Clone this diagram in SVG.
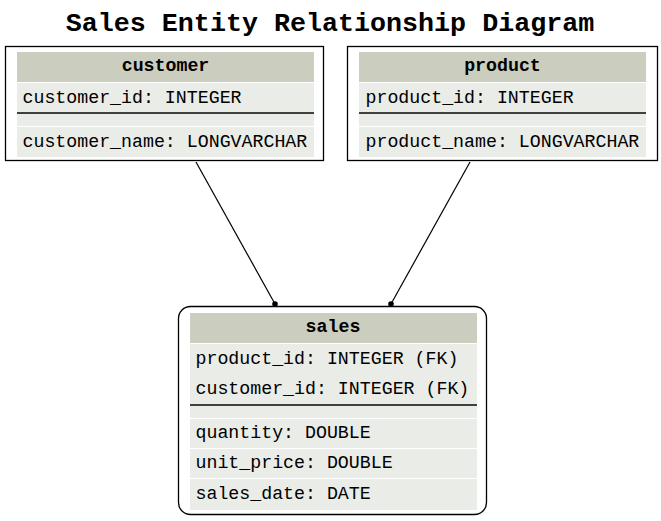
<svg xmlns="http://www.w3.org/2000/svg" width="661" height="521" viewBox="0 0 661 521">
<style>
.t{font-family:"Liberation Mono",monospace;font-size:18.25px;fill:#000}
.h{font-family:"Liberation Mono",monospace;font-size:18.25px;font-weight:bold;fill:#000;text-anchor:middle}
.title{font-family:"Liberation Mono",monospace;font-size:26.7px;font-weight:bold;fill:#000;text-anchor:middle}
.hd{fill:#cbcdbf}
.rw{fill:#eaece7}
.box{fill:#fff;stroke:#000;stroke-width:1.3}
.sep{stroke:#000;stroke-width:1.3}
.edge{stroke:#000;stroke-width:1.2;fill:none}
</style>
<rect width="661" height="521" fill="#fff"/>
<text class="title" x="330" y="31">Sales Entity Relationship Diagram</text>
<g id="customer">
<rect class="box" x="5.5" y="46.5" width="318" height="114"/>
<rect class="hd" x="17" y="52" width="297" height="30"/>
<rect class="rw" x="17" y="83" width="297" height="29"/>
<rect class="rw" x="17" y="114" width="297" height="12"/>
<rect class="rw" x="17" y="127" width="297" height="30"/>
<line class="sep" x1="17" y1="113" x2="314" y2="113"/>
<text class="h" x="165.5" y="71">customer</text>
<text class="t" x="22.5" y="103">customer_id: INTEGER</text>
<text class="t" x="22.5" y="147">customer_name: LONGVARCHAR</text>
</g>
<g id="product">
<rect class="box" x="347.5" y="46.5" width="310" height="114"/>
<rect class="hd" x="359" y="52" width="287" height="30"/>
<rect class="rw" x="359" y="83" width="287" height="29"/>
<rect class="rw" x="359" y="114" width="287" height="12"/>
<rect class="rw" x="359" y="127" width="287" height="30"/>
<line class="sep" x1="359" y1="113" x2="646" y2="113"/>
<text class="h" x="502.5" y="71">product</text>
<text class="t" x="365.5" y="103">product_id: INTEGER</text>
<text class="t" x="365.5" y="147">product_name: LONGVARCHAR</text>
</g>
<g id="sales">
<rect class="box" x="178.5" y="306.5" width="308" height="208" rx="12" ry="12"/>
<rect class="hd" x="190" y="313" width="287" height="30"/>
<rect class="rw" x="190" y="344" width="287" height="60"/>
<rect class="rw" x="190" y="406" width="287" height="12"/>
<rect class="rw" x="190" y="419" width="287" height="29"/>
<rect class="rw" x="190" y="449" width="287" height="29"/>
<rect class="rw" x="190" y="479" width="287" height="31"/>
<line class="sep" x1="190" y1="405" x2="477" y2="405"/>
<text class="h" x="333" y="332">sales</text>
<text class="t" x="195.5" y="364">product_id: INTEGER (FK)</text>
<text class="t" x="195.5" y="394">customer_id: INTEGER (FK)</text>
<text class="t" x="195.5" y="438">quantity: DOUBLE</text>
<text class="t" x="195.5" y="468">unit_price: DOUBLE</text>
<text class="t" x="195.5" y="499">sales_date: DATE</text>
</g>
<g id="connectors">
<line class="edge" x1="196" y1="162" x2="275" y2="304"/>
<circle cx="275" cy="304" r="2.8" fill="#000"/>
<line class="edge" x1="470" y1="162" x2="391" y2="304"/>
<circle cx="391" cy="304" r="2.8" fill="#000"/>
</g>
</svg>
